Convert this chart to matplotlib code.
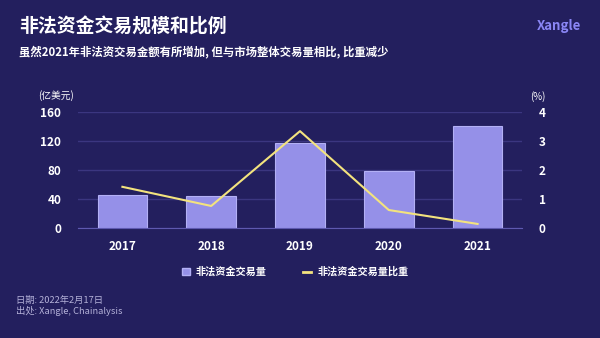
import matplotlib
matplotlib.use('Agg')
import matplotlib.pyplot as plt
from matplotlib.patches import Patch
from matplotlib.lines import Line2D

plt.rcParams['font.family'] = ['Noto Sans CJK SC', 'DejaVu Sans']

years = ['2017', '2018', '2019', '2020', '2021']
volume = [45.5, 44.5, 116.8, 78.6, 140.7]   # 亿美元
share = [1.42, 0.76, 3.34, 0.62, 0.14]      # %

bg = '#231f5e'
bar_c = '#9590e8'
line_c = '#f3e37e'
grid_c = '#3b3680'

fig = plt.figure(figsize=(6, 3.38), dpi=100, facecolor=bg)
ax = fig.add_axes([78/600, 1-228/338, 444/600, 116/338])
ax.set_facecolor(bg)
x = range(len(years))
ax.bar(x, volume, width=0.56, color=bar_c, edgecolor='#b3b0f5', linewidth=0.8, zorder=2)
ax.set_ylim(0, 160)
ax.set_yticks([0, 40, 80, 120, 160])
ax.set_xlim(-0.5, 4.5)
ax.set_xticks(list(x))
ax.set_xticklabels(years)
ax.grid(axis='y', color=grid_c, linewidth=1, zorder=0)
for s in ['top', 'right', 'left']:
    ax.spines[s].set_visible(False)
ax.spines['bottom'].set_color('#5e59b0')
ax.tick_params(length=0, colors='white', labelsize=8.5)
ax.tick_params(axis='x', pad=9)
ax.tick_params(axis='y', pad=12)
for lab in ax.get_xticklabels() + ax.get_yticklabels():
    lab.set_fontweight('bold')

ax2 = ax.twinx()
ax2.plot(list(x), share, color=line_c, linewidth=1.5, zorder=3)
ax2.set_ylim(0, 4)
ax2.set_yticks([0, 1, 2, 3, 4])
for s in ax2.spines.values():
    s.set_visible(False)
ax2.tick_params(length=0, colors='white', labelsize=8.5, pad=12)
for lab in ax2.get_yticklabels():
    lab.set_fontweight('bold')

fig.text(19/600, 1-27/338, '非法资金交易规模和比例', color='white', fontsize=13.6,
         fontweight='bold', va='center')
fig.text(19/600, 1-52/338, '虽然2021年非法资交易金额有所增加, 但与市场整体交易量相比, 比重减少',
         color='white', fontsize=8.2, fontweight='bold', va='center')
fig.text(559/600, 1-26/338, 'Xangle', color='#8a86f5', fontsize=9.5,
         fontweight='bold', ha='center', va='center')
fig.text(56/600, 1-96/338, '(亿美元)', color='white', fontsize=7, ha='center', va='center')
fig.text(538/600, 1-97/338, '(%)', color='white', fontsize=7, ha='center', va='center')

handles = [Patch(facecolor=bar_c, edgecolor='#b3b0f5'),
           Line2D([0], [0], color=line_c, linewidth=2)]
leg = fig.legend(handles, ['非法资金交易量', '非法资金交易量比重'], loc='center',
                 bbox_to_anchor=(295/600, 1-272/338), ncol=2, frameon=False,
                 fontsize=7.3, columnspacing=3.6, handlelength=0.8, handletextpad=0.6)
for t in leg.get_texts():
    t.set_color('white')
    t.set_fontweight('bold')

fig.text(16/600, 1-300/338, '日期: 2022年2月17日', color='#b4b1d8', fontsize=6.7, va='center')
fig.text(16/600, 1-311/338, '出处: Xangle, Chainalysis', color='#b4b1d8', fontsize=6.7, va='center')

fig.savefig('out.png', dpi=100, facecolor=bg)
